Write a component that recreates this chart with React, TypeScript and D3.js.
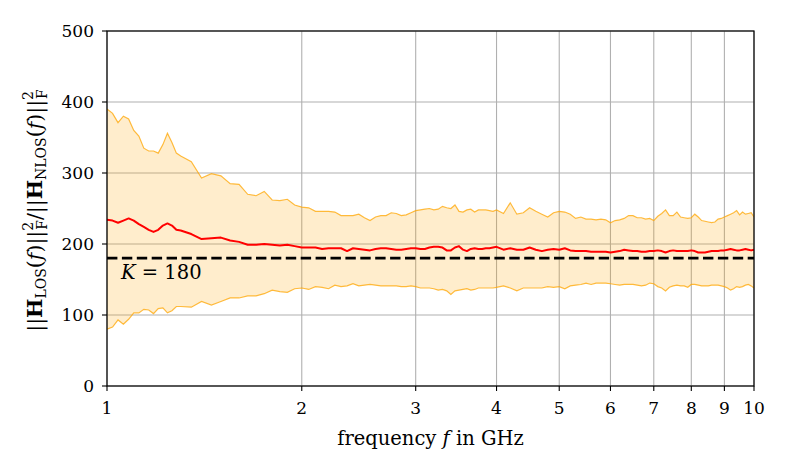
import React from "react";
import * as d3 from "d3";

// frequency grid in GHz
const freqs: number[] = [
  1.0, 1.02, 1.04, 1.06, 1.08, 1.1, 1.12, 1.14, 1.16, 1.18, 1.2, 1.22, 1.24, 1.26, 1.28, 1.3,
  1.35, 1.4, 1.45, 1.5, 1.55, 1.6, 1.65, 1.7, 1.75, 1.8, 1.85, 1.9, 1.95,
  2.0, 2.05, 2.1, 2.15, 2.2, 2.25, 2.3, 2.35, 2.4, 2.45, 2.5, 2.55, 2.6, 2.65, 2.7, 2.75, 2.8, 2.85, 2.9, 2.95,
  3.0, 3.05, 3.1, 3.15, 3.2, 3.25, 3.3, 3.35, 3.4, 3.45, 3.5, 3.55, 3.6, 3.65, 3.7, 3.75, 3.8, 3.85, 3.9, 3.95,
  4.0, 4.1, 4.2, 4.3, 4.4, 4.5, 4.6, 4.7, 4.8, 4.9,
  5.0, 5.1, 5.2, 5.3, 5.4, 5.5, 5.6, 5.7, 5.8, 5.9,
  6.0, 6.1, 6.2, 6.3, 6.4, 6.5, 6.6, 6.7, 6.8, 6.9,
  7.0, 7.1, 7.2, 7.3, 7.4, 7.5, 7.6, 7.7, 7.8, 7.9,
  8.0, 8.1, 8.2, 8.3, 8.4, 8.5, 8.6, 8.7, 8.8, 8.9,
  9.0, 9.1, 9.2, 9.3, 9.4, 9.5, 9.6, 9.7, 9.8, 9.9, 10.0,
];

const upper: number[] = [
  390, 384, 371, 380, 376, 360, 352, 335, 331, 331, 328, 340, 356, 343, 328, 324,
  316, 293, 299, 296, 285, 284, 270, 268, 274, 262, 261, 263, 255,
  252, 251, 246, 246, 246, 245, 240, 240, 240, 242, 237, 233, 238, 240, 240, 244, 243, 240, 241, 244,
  247, 248, 249, 250, 248, 249, 253, 251, 250, 255, 246, 245, 248, 249, 245, 248, 248, 248, 247, 246,
  248, 243, 258, 242, 244, 251, 246, 242, 238, 244,
  246, 245, 242, 236, 238, 235, 235, 234, 235, 234,
  230, 233, 234, 236, 240, 240, 237, 237, 235, 236,
  233, 239, 243, 248, 240, 240, 245, 238, 237, 236,
  237, 242, 238, 233, 232, 231, 230, 231, 235, 236,
  238, 240, 242, 244, 247, 241, 245, 242, 243, 244, 238,
];

const mean: number[] = [
  234, 233, 230, 233, 236, 233, 228, 224, 220, 217, 220, 226, 229, 226, 220, 219,
  214, 207, 208, 209, 205, 203, 199, 199, 200, 199, 198, 199, 197,
  195, 195, 195, 193, 194, 194, 194, 190, 194, 193, 192, 191, 193, 194, 194, 193, 192, 192, 193, 194,
  194, 193, 193, 195, 196, 196, 195, 191, 191, 195, 197, 192, 190, 193, 194, 193, 193, 194, 194, 195,
  196, 192, 194, 192, 192, 195, 192, 190, 192, 193,
  192, 194, 191, 190, 190, 190, 189, 189, 189, 189,
  188, 189, 190, 192, 191, 190, 190, 189, 189, 190,
  190, 191, 190, 188, 190, 191, 190, 190, 190, 190,
  191, 190, 188, 188, 188, 189, 190, 190, 190, 191,
  191, 192, 193, 192, 191, 191, 192, 193, 192, 191, 192,
];

const lower: number[] = [
  80, 83, 93, 87, 94, 103, 103, 108, 107, 102, 109, 110, 103, 106, 112, 112,
  111, 119, 114, 119, 124, 124, 127, 127, 130, 135, 133, 132, 137,
  138, 136, 140, 139, 137, 142, 140, 141, 144, 141, 142, 143, 142, 141, 141, 141, 141, 140, 140, 141,
  140, 138, 138, 138, 137, 135, 136, 134, 129, 134, 135, 136, 137, 135, 136, 138, 138, 138, 138, 138,
  139, 141, 138, 134, 138, 138, 138, 138, 140, 139,
  140, 137, 141, 142, 143, 145, 143, 145, 145, 145,
  144, 143, 142, 143, 143, 143, 142, 141, 142, 145,
  144, 140, 138, 134, 139, 141, 142, 141, 141, 139,
  143, 143, 142, 141, 141, 141, 142, 142, 142, 141,
  140, 138, 135, 137, 140, 139, 140, 142, 143, 141, 138,
];

const K = 180;
const xTicks: number[] = [1, 2, 3, 4, 5, 6, 7, 8, 9, 10];
const yTicks: number[] = [0, 100, 200, 300, 400, 500];

const W = 789;
const H = 473;
const M = { left: 107, right: 754, top: 31, bottom: 386 };
const FONT = '"DejaVu Serif", "Liberation Serif", "Noto Serif", serif';

export default function App() {
  const x = d3.scaleLog().domain([1, 10]).range([M.left, M.right]);
  const y = d3.scaleLinear().domain([0, 500]).range([M.bottom, M.top]);

  const idx = freqs.map((_, i) => i);
  const area = d3
    .area<number>()
    .x((i) => x(freqs[i]))
    .y0((i) => y(lower[i]))
    .y1((i) => y(upper[i]));
  const lineOf = (arr: number[]) =>
    d3
      .line<number>()
      .x((i) => x(freqs[i]))
      .y((i) => y(arr[i]))(idx) || "";

  const Tick: React.CSSProperties = { fontFamily: FONT, fontSize: "17px" };
  const L: React.CSSProperties = { fontFamily: FONT, fontSize: "19.5px" };
  const YL: React.CSSProperties = { fontFamily: FONT, fontSize: "20.5px" };
  const S: React.CSSProperties = { fontFamily: FONT, fontSize: "14px" };

  return (
    <svg
      width={W}
      height={H}
      style={{ position: "absolute", left: 0, top: 0, background: "#fff" }}
    >
      <defs>
        <clipPath id="plot">
          <rect x={M.left} y={M.top} width={M.right - M.left} height={M.bottom - M.top} />
        </clipPath>
      </defs>
      <rect x={0} y={0} width={W} height={H} fill="#fff" />
      {/* grid */}
      <g stroke="#b0b0b0" strokeWidth={1.1}>
        {xTicks.map((t) => (
          <line key={"gx" + t} x1={x(t)} x2={x(t)} y1={M.top} y2={M.bottom} />
        ))}
        {yTicks.map((t) => (
          <line key={"gy" + t} x1={M.left} x2={M.right} y1={y(t)} y2={y(t)} />
        ))}
      </g>
      <g clipPath="url(#plot)">
        <path d={area(idx) || ""} fill="orange" fillOpacity={0.2} stroke="none" />
        <path d={lineOf(upper)} fill="none" stroke="orange" strokeOpacity={0.75} strokeWidth={1.2} />
        <path d={lineOf(lower)} fill="none" stroke="orange" strokeOpacity={0.75} strokeWidth={1.2} />
        <path d={lineOf(mean)} fill="none" stroke="red" strokeWidth={2} strokeLinejoin="round" />
        <line
          x1={M.left}
          x2={M.right}
          y1={y(K)}
          y2={y(K)}
          stroke="#000"
          strokeWidth={2.8}
          strokeDasharray="10.4,4.5"
        />
      </g>
      <text x={121} y={279} style={L} fill="#000">
        <tspan fontStyle="italic">K</tspan>
        <tspan> = 180</tspan>
      </text>
      {/* frame */}
      <rect
        x={M.left}
        y={M.top}
        width={M.right - M.left}
        height={M.bottom - M.top}
        fill="none"
        stroke="#000"
        strokeWidth={1.2}
      />
      {/* x ticks */}
      <g>
        {xTicks.map((t) => (
          <g key={"xt" + t}>
            <line x1={x(t)} x2={x(t)} y1={M.bottom} y2={M.bottom + 5} stroke="#000" strokeWidth={1.1} />
            <text x={x(t)} y={M.bottom + 28} style={Tick} textAnchor="middle" fill="#000">
              {t}
            </text>
          </g>
        ))}
      </g>
      {/* y ticks */}
      <g>
        {yTicks.map((t) => (
          <g key={"yt" + t}>
            <line x1={M.left - 5} x2={M.left} y1={y(t)} y2={y(t)} stroke="#000" strokeWidth={1.1} />
            <text x={M.left - 13} y={y(t) + 6} style={Tick} textAnchor="end" fill="#000">
              {t}
            </text>
          </g>
        ))}
      </g>
      <text x={(M.left + M.right) / 2} y={445} style={L} textAnchor="middle" fill="#000">
        <tspan>frequency </tspan>
        <tspan fontStyle="italic">f</tspan>
        <tspan> in GHz</tspan>
      </text>
      <text
        transform={`translate(42, ${(M.top + M.bottom) / 2 + 2}) rotate(-90)`}
        style={YL}
        textAnchor="middle"
        fill="#000"
      >
        <tspan>||</tspan>
        <tspan fontWeight="bold">H</tspan>
        <tspan style={S} dy={4}>LOS</tspan>
        <tspan dy={-4}>(</tspan>
        <tspan fontStyle="italic">f</tspan>
        <tspan>)||</tspan>
        <tspan style={S} dy={-9}>2</tspan>
        <tspan style={S} dx={-8} dy={14}>F</tspan>
        <tspan dy={-5}>/||</tspan>
        <tspan fontWeight="bold">H</tspan>
        <tspan style={S} dy={4}>NLOS</tspan>
        <tspan dy={-4}>(</tspan>
        <tspan fontStyle="italic">f</tspan>
        <tspan>)||</tspan>
        <tspan style={S} dy={-9}>2</tspan>
        <tspan style={S} dx={-8} dy={14}>F</tspan>
      </text>
    </svg>
  );
}
